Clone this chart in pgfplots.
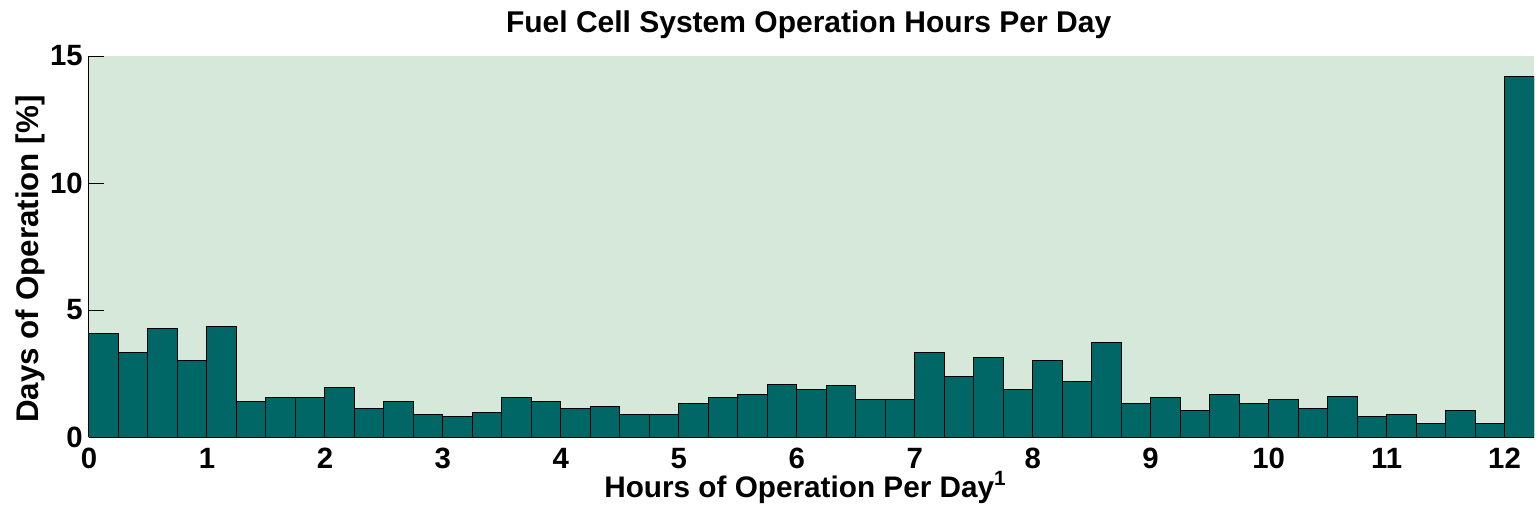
\documentclass[border=0pt]{standalone}
\usepackage{fontspec}
\setmainfont{Liberation Sans}
\usepackage{pgfplots}
\pgfplotsset{compat=1.18}
\usetikzlibrary{calc}
\definecolor{barteal}{RGB}{0,102,102}
\definecolor{bgmint}{RGB}{214,232,218}

\begin{document}
\begin{tikzpicture}
\begin{axis}[
  scale only axis,
  width=1083.75pt,
  height=285.75pt,
  xmin=0, xmax=12.25,
  ymin=0, ymax=15,
  axis x line*=bottom,
  axis y line*=left,
  axis line style={black, line width=0.75pt},
  axis background/.style={fill=bgmint},
  xtick={0,1,...,12},
  ytick={0,5,10,15},
  tick align=inside,
  xtick style={draw=none},
  ytick style={black, line width=0.75pt},
  major tick length=11pt,
  /pgf/number format/assume math mode=true,
  tick label style={font=\fontsize{22}{22}\selectfont\bfseries},
  xticklabel style={anchor=base, inner sep=0pt, yshift=-12.5pt},
  yticklabel style={anchor=east, inner xsep=0pt, xshift=-4.5pt},
  title={Fuel Cell System Operation Hours Per Day},
  title style={font=\fontsize{22.5}{22.5}\selectfont\bfseries, at={(axis description cs:0.498,1)}, anchor=base, yshift=12pt},
  xlabel={Hours of Operation Per Day\smash{\raisebox{0.42em}{\fontsize{15.5}{15.5}\selectfont 1}}},
  xlabel style={font=\fontsize{22.3}{22.3}\selectfont\bfseries, inner sep=0pt, at={(axis description cs:0.4955,-0.159)}, anchor=base},
  ylabel={Days of Operation [\%]},
  ylabel style={font=\fontsize{23.5}{23.5}\selectfont\bfseries, at={(axis description cs:-0.0408,0.467)}, anchor=center},
  ybar,
  bar width=0.25,
  bar shift=0pt,
]
\addplot[fill=barteal, draw=black, line width=0.75pt] coordinates {
  (0.125,4.08) (0.375,3.32) (0.625,4.28) (0.875,3.03)
  (1.125,4.37) (1.375,1.38) (1.625,1.56) (1.875,1.56)
  (2.125,1.93) (2.375,1.11) (2.625,1.38) (2.875,0.88)
  (3.125,0.79) (3.375,0.97) (3.625,1.56) (3.875,1.38)
  (4.125,1.12) (4.375,1.21) (4.625,0.88) (4.875,0.88)
  (5.125,1.31) (5.375,1.56) (5.625,1.67) (5.875,2.08)
  (6.125,1.87) (6.375,2.04) (6.625,1.49) (6.875,1.49)
  (7.125,3.32) (7.375,2.37) (7.625,3.14) (7.875,1.87)
  (8.125,3.03) (8.375,2.18) (8.625,3.71) (8.875,1.31)
  (9.125,1.56) (9.375,1.03) (9.625,1.67) (9.875,1.31)
  (10.125,1.49) (10.375,1.13) (10.625,1.58) (10.875,0.82)
  (11.125,0.90) (11.375,0.53) (11.625,1.04) (11.875,0.53)
  (12.125,14.18)
};
\end{axis}
\pgfresetboundingbox
\path ($(current axis.south west)+(-66.75pt,-61.5pt)$) rectangle ($(current axis.north east)+(3pt,42pt)$);
\end{tikzpicture}
\end{document}
